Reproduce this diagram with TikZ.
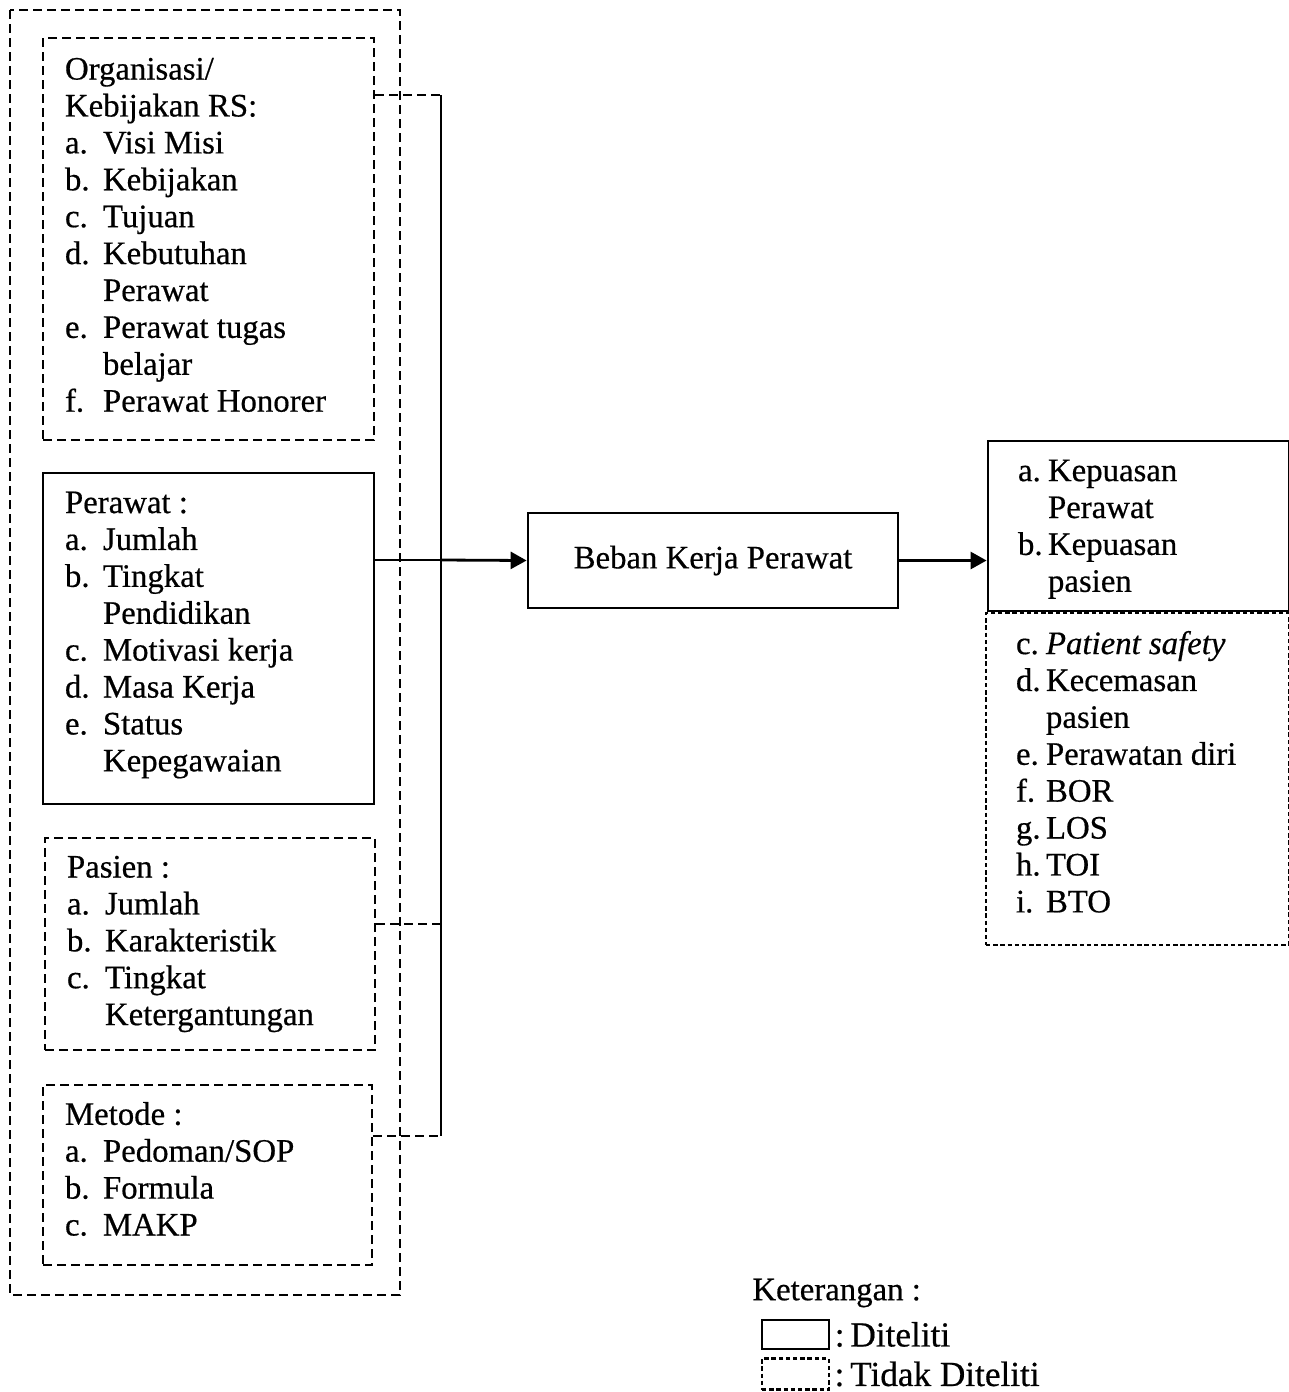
\documentclass[tikz,border=0pt]{standalone}
\usepackage{fontspec}
\setmainfont{Liberation Serif}[FakeBold=0.5]
\usetikzlibrary{arrows.meta}
\newcommand{\li}[2]{\par\hangindent=19pt\hangafter=1\noindent\makebox[19pt][l]{#1}#2\par}
\newcommand{\ri}[2]{\par\hangindent=15pt\hangafter=1\noindent\makebox[15pt][l]{#1}#2\par}
\newcommand{\naik}[1]{\par\kern#1}
\tikzset{
	txt/.style={font=\fontsize{16.4}{18.45}\selectfont},
	kotak/.style={draw, line width=1.4pt, txt, inner ysep=0pt},
	putus/.style={line width=1.4pt, dash pattern=on 4.5pt off 2.5pt},
	putuskecil/.style={line width=1.2pt, dash pattern=on 2.2pt off 1.4pt},
	kiri/.style={kotak, align=flush left, inner xsep=11pt, text width=143.5pt, minimum width=165.5pt},
	kanan/.style={kotak, align=flush left, inner xsep=15pt, text width=120.5pt, minimum width=150.5pt},
	panah/.style={line width=1.4pt, -{Triangle[length=8pt,width=8.5pt]}},
	ket/.style={font=\fontsize{17.6}{20}\selectfont, anchor=west, inner sep=0pt}
}

\begin{document}
\begin{tikzpicture}[x=0.5pt, y=-0.5pt]
			%%%%% START %%%%%
			\useasboundingbox (0, 0) rectangle (1289, 1392);
			
			\draw[putus] (10, 10) rectangle (400, 1295);
			
			\node[kiri, putus, minimum height=201pt] (org) at (208.5, 239) {Organisasi/\newline Kebijakan RS:
				\li{a.}{Visi Misi}
				\li{b.}{Kebijakan}
				\li{c.}{Tujuan}
				\li{d.}{Kebutuhan\newline Perawat}
				\li{e.}{Perawat tugas\newline belajar}
				\li{f.}{Perawat Honorer}\naik{4pt}};
			
			\node[kiri, minimum height=165.5pt] (per) at (208.5, 638.5) {Perawat :
				\li{a.}{Jumlah}
				\li{b.}{Tingkat\newline Pendidikan}
				\li{c.}{Motivasi kerja}
				\li{d.}{Masa Kerja}
				\li{e.}{Status\newline Kepegawaian}\naik{3.5pt}};
			
			\node[kiri, putus, text width=143pt, minimum width=165pt, minimum height=106pt] (pas) at (210, 944) {Pasien :
				\li{a.}{Jumlah}
				\li{b.}{Karakteristik}
				\li{c.}{Tingkat\newline Ketergantungan}};
			
			\node[kiri, putus, text width=142.5pt, minimum width=164.5pt, minimum height=90pt] (met) at (207.5, 1175) {Metode :
				\li{a.}{Pedoman/SOP}
				\li{b.}{Formula}
				\li{c.}{MAKP}\naik{6pt}};
			
			\node[kotak, minimum width=185pt, minimum height=47.5pt] (beban) at (713, 560.5) {Beban Kerja Perawat};
			
			\node[kanan, minimum height=85pt] (hasil) at (1138.5, 526) {\ri{a.}{Kepuasan\newline Perawat}
				\ri{b.}{Kepuasan\newline pasien}\naik{4.5pt}};
			
			\node[kanan, putuskecil, text width=121.5pt, minimum width=151.5pt, minimum height=166pt] (lain) at (1137.5, 779) {\ri{c.}{\textit{Patient safety}}
				\ri{d.}{Kecemasan\newline pasien}
				\ri{e.}{Perawatan diri}
				\ri{f.}{BOR}
				\ri{g.}{LOS}
				\ri{h.}{TOI}
				\ri{i.}{BTO}\naik{14pt}};
			
			% garis penghubung
			\coordinate (busatas) at (441, 95);
			\coordinate (bustengah) at (441, 560);
			\coordinate (buspasien) at (441, 924);
			\coordinate (busbawah) at (441, 1136);
			
			\draw[line width=1.4pt] (busatas) -- (busbawah);
			\draw[putus] (org.east |- busatas) -- (busatas);
			\draw[line width=1.4pt] (per.east |- bustengah) -- (bustengah);
			\draw[putus] (pas.east |- buspasien) -- (buspasien);
			\draw[putus] (met.east |- busbawah) -- (busbawah);
			
			\draw[panah] (bustengah) -- (beban.west);
			\draw[panah] (beban.east) -- (hasil.west |- beban.east);
			
			% keterangan
			\node[txt, anchor=west, inner sep=0pt] (ket) at (752, 1293) {Keterangan :};
			\node[draw, line width=1.4pt, minimum width=33.5pt, minimum height=14.5pt, inner sep=0pt] (lg1) at (795.5, 1334.5) {};
			\node[ket] (lt1) at ([xshift=2pt]lg1.east) {:\,Diteliti};
			\node[draw, putuskecil, minimum width=33.5pt, minimum height=15.5pt, inner sep=0pt] (lg2) at (795.5, 1374) {};
			\node[ket] (lt2) at ([xshift=2pt]lg2.east) {:\,Tidak Diteliti};
			
			%%%%% END %%%%%
\end{tikzpicture}
\end{document}
